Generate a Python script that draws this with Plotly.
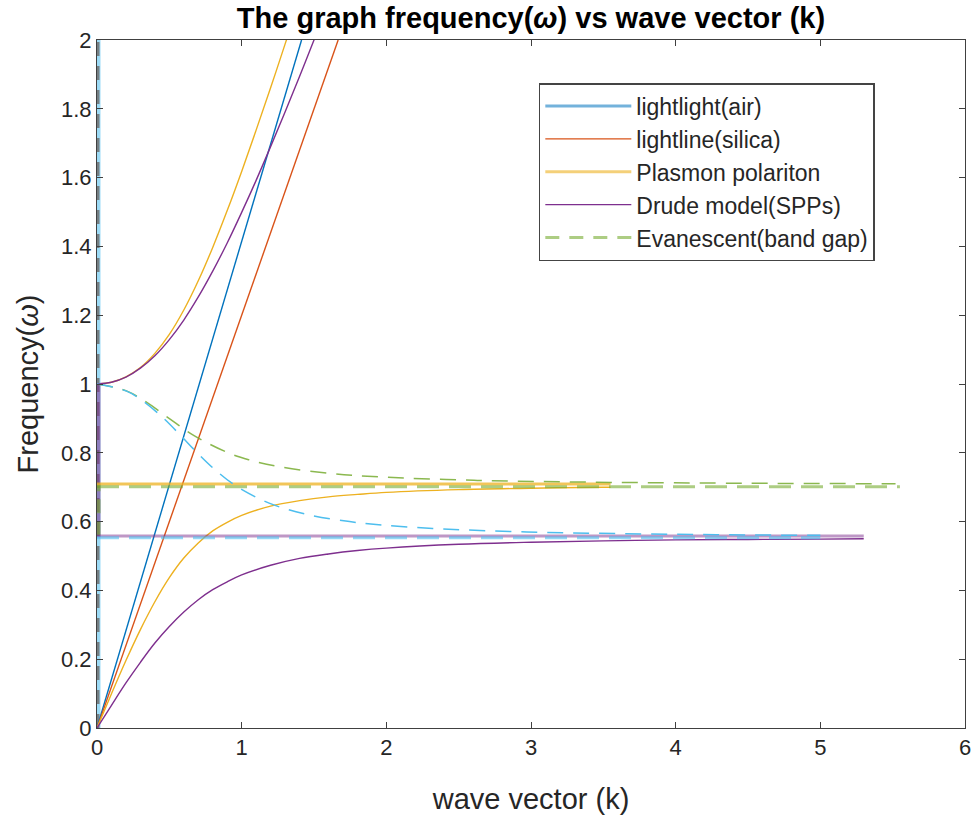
import plotly.graph_objects as go

# ---- dispersion data (wave vector k, frequency w) ----
# light lines
k_air = [0.0, 1.414]
w_air = [0.0, 2.0]
k_silica = [0.0, 1.667]
w_silica = [0.0, 2.0]

# plasmon polariton (metal / air), upper and lower branch
k_pp_up = [0.0, 0.1, 0.2, 0.3, 0.4, 0.5, 0.6, 0.7, 0.8, 0.9, 1.0, 1.1, 1.2, 1.3, 1.35]
w_pp_up = [1.0, 1.005, 1.021, 1.048, 1.089, 1.144, 1.215, 1.300, 1.397, 1.504, 1.618, 1.738, 1.861, 1.988, 2.052]
k_pp_low = [0.0, 0.1, 0.2, 0.3, 0.4, 0.5, 0.6, 0.7, 0.8, 0.9, 1.0, 1.2, 1.4, 1.6, 1.8, 2.0, 2.5, 3.0, 3.5, 3.55]
w_pp_low = [0.0, 0.0995, 0.196, 0.286, 0.367, 0.437, 0.494, 0.538, 0.573, 0.598, 0.618, 0.645, 0.661, 0.672, 0.679, 0.685, 0.693, 0.697, 0.700, 0.700]
k_pp_flat = [0.0, 3.55]
w_pp_flat = [0.709, 0.709]

# Drude model SPPs (metal / silica), upper and lower branch
k_spp_up = [0.0, 0.1, 0.2, 0.3, 0.4, 0.5, 0.6, 0.7, 0.8, 0.9, 1.0, 1.1, 1.2, 1.3, 1.4, 1.5, 1.55]
w_spp_up = [1.0, 1.005, 1.020, 1.046, 1.082, 1.129, 1.186, 1.253, 1.328, 1.410, 1.499, 1.592, 1.690, 1.791, 1.894, 2.0, 2.054]
k_spp_low = [0.0, 0.1, 0.2, 0.3, 0.4, 0.5, 0.6, 0.7, 0.8, 0.9, 1.0, 1.2, 1.4, 1.6, 1.8, 2.0, 2.5, 3.0, 3.5, 4.0, 4.5, 5.0, 5.3]
w_spp_low = [0.0, 0.066, 0.131, 0.191, 0.247, 0.295, 0.337, 0.373, 0.402, 0.425, 0.445, 0.473, 0.493, 0.506, 0.516, 0.523, 0.534, 0.540, 0.544, 0.547, 0.548, 0.549, 0.550]
k_spp_flat = [0.0, 5.3]
w_spp_flat = [0.558, 0.558]

# evanescent (band gap) branches
k_ev_air = [0.0, 0.203, 0.331, 0.498, 0.671, 0.907, 1.048, 1.254, 1.613, 1.945, 2.605, 3.336, 4.242, 5.52]
w_ev_air = [1.0, 0.98, 0.95, 0.90, 0.85, 0.80, 0.78, 0.76, 0.74, 0.73, 0.72, 0.715, 0.712, 0.710]
k_ev_air_flat = [0.0, 5.55]
w_ev_air_flat = [0.701, 0.701]

k_ev_sil = [0.0, 0.201, 0.320, 0.461, 0.579, 0.693, 0.818, 0.974, 1.213, 1.461, 1.746, 1.972, 2.320, 2.971, 3.612, 4.284, 5.0]
w_ev_sil = [1.0, 0.98, 0.95, 0.90, 0.85, 0.80, 0.75, 0.70, 0.65, 0.62, 0.60, 0.59, 0.58, 0.57, 0.565, 0.562, 0.560]
k_ev_sil_flat = [0.0, 5.0]
w_ev_sil_flat = [0.553, 0.553]

# markers along k = 0
k_axis = [0.0, 0.0]
w_axis_full = [0.0, 2.0]
w_axis_spp = [0.555, 1.0]
w_axis_gap = [0.56, 0.71]

legend_names = ["lightlight(air)", "lightline(silica)", "Plasmon polariton",
                "Drude model(SPPs)", "Evanescent(band gap)"]

BLUE = "#0072BD"
RED = "#D95319"
YELLOW = "#EDB120"
PURPLE = "#7E2F8E"
GREEN = "#77AC30"
CYAN = "#4DBEEE"

fig = go.Figure()


def line(x, y, color, width=1.4, dash="solid", shape="linear"):
    fig.add_trace(go.Scatter(x=x, y=y, mode="lines", showlegend=False,
                             line=dict(color=color, width=width, dash=dash, shape=shape),
                             hoverinfo="skip"))


# vertical lines on k = 0
line(k_axis, w_axis_full, "rgba(77,190,238,0.55)", width=7)
line(k_axis, w_axis_full, "rgba(110,110,110,0.85)", width=5, dash="14px,10px")
line(k_axis, w_axis_spp, "rgba(126,47,142,0.55)", width=7)
line(k_axis, w_axis_gap, "rgba(119,172,48,0.6)", width=7, dash="14px,8px")

# light lines
line(k_air, w_air, BLUE)
line(k_silica, w_silica, RED)

# plasmon polariton
line(k_pp_flat, w_pp_flat, "rgba(237,177,32,0.75)", width=3)
line(k_pp_up, w_pp_up, YELLOW, shape="spline")
line(k_pp_low, w_pp_low, YELLOW, shape="spline")

# evanescent (air)
line(k_ev_air_flat, w_ev_air_flat, "rgba(119,172,48,0.6)", width=3, dash="22px,10px")
line(k_ev_air, w_ev_air, "rgba(119,172,48,0.85)", width=1.5, dash="16px,10px", shape="spline")

# Drude SPPs
line(k_spp_flat, w_spp_flat, "rgba(126,47,142,0.5)", width=3)
line(k_spp_up, w_spp_up, PURPLE, shape="spline")
line(k_spp_low, w_spp_low, PURPLE, shape="spline")

# evanescent (silica)
line(k_ev_sil_flat, w_ev_sil_flat, "rgba(77,190,238,0.6)", width=3, dash="22px,10px")
line(k_ev_sil, w_ev_sil, CYAN, width=1.5, dash="16px,10px", shape="spline")

# legend entries
legend_styles = [
    dict(color="rgba(0,114,189,0.55)", width=3, dash="solid"),
    dict(color=RED, width=1.4, dash="solid"),
    dict(color="rgba(237,177,32,0.6)", width=3, dash="solid"),
    dict(color=PURPLE, width=1.4, dash="solid"),
    dict(color="rgba(119,172,48,0.6)", width=3, dash="14px,10px"),
]
for i, (name, st) in enumerate(zip(legend_names, legend_styles)):
    fig.add_trace(go.Scatter(x=[None], y=[None], mode="lines", name=name,
                             line=st, legendgroup=f"g{i}", showlegend=True))

FONT = "Liberation Sans, Arial, Helvetica, sans-serif"
TXT = "#262626"

fig.update_layout(
    width=977, height=815,
    margin=dict(l=97, r=12, t=40, b=87, autoexpand=False),
    paper_bgcolor="white", plot_bgcolor="white",
    font=dict(family=FONT, color=TXT, size=22),
    title=dict(text="<b>The graph frequency(<i>ω</i>) vs wave vector (k)</b>",
               x=0.5435, xanchor="center", y=1 - 18 / 815, yanchor="middle",
               font=dict(size=29, color="black")),
    showlegend=True,
    legend=dict(x=0.509, y=0.9375, xanchor="left", yanchor="top",
                bgcolor="white", bordercolor="#444444", borderwidth=1.5,
                font=dict(size=23, color=TXT), tracegroupgap=0,
                itemwidth=86),
    xaxis=dict(range=[0, 6], dtick=1, tick0=0, ticks="inside", ticklen=6,
               tickcolor="#404040", showline=True, linecolor="#404040", linewidth=1,
               mirror="ticks", showgrid=False, zeroline=False, automargin=False,
               title=dict(text="wave vector (k)", font=dict(size=29), standoff=29),
               tickfont=dict(size=22, color=TXT)),
    yaxis=dict(range=[0, 2], dtick=0.2, tick0=0, ticks="inside", ticklen=6,
               tickcolor="#404040", showline=True, linecolor="#404040", linewidth=1,
               mirror="ticks", showgrid=False, zeroline=False, automargin=False,
               title=dict(text="Frequency(<i>ω</i>)", font=dict(size=29), standoff=13),
               tickfont=dict(size=22, color=TXT)),
)

fig.write_html("out.html")
